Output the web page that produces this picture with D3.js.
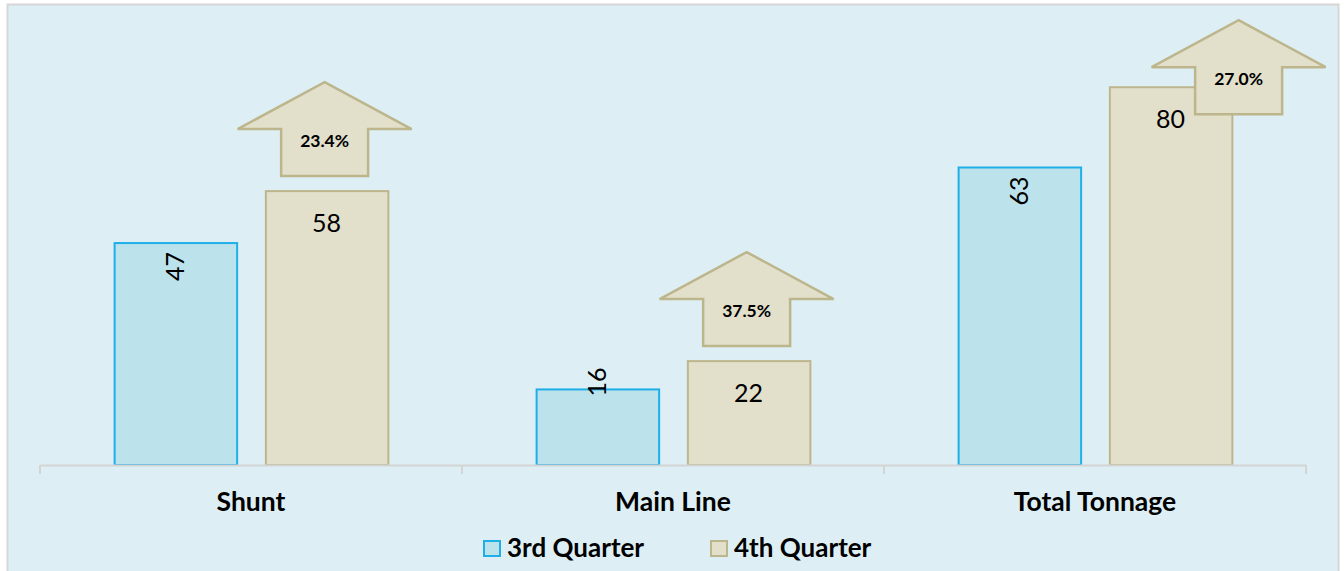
<!DOCTYPE html>
<html>
<head>
<meta charset="utf-8">
<script src="https://cdn.jsdelivr.net/npm/d3@7"></script>
<style>
  body { margin: 0; background: #fff; }
  text { font-family: Lato, "Open Sans", sans-serif; }
</style>
</head>
<body>
<div id="chart"></div>
<script>
const categories = ['Shunt', 'Main Line', 'Total Tonnage'];
const seriesNames = ['3rd Quarter', '4th Quarter'];
const q3 = [47, 16, 63];
const q4 = [58, 22, 80];
const changes = ['23.4%', '37.5%', '27.0%'];

const width = 1344, height = 571;
const colors = {
  '3rd Quarter': {fill: '#bce2ec', stroke: '#1eaee8'},
  '4th Quarter': {fill: '#e2dfcb', stroke: '#bdb68c'}
};

const svg = d3.select('#chart').append('svg')
  .attr('width', width).attr('height', height);

// background panel
svg.append('rect')
  .attr('x', 7.5).attr('y', 4.5)
  .attr('width', 1331).attr('height', 580)
  .attr('fill', '#ddeff5')
  .attr('stroke', '#d6d6d6').attr('stroke-width', 2);

const x0 = d3.scaleBand().domain(categories).range([40, 1306]).padding(0);
const x1 = d3.scaleBand().domain(seriesNames).range([0, x0.bandwidth()])
  .paddingInner(0.19).paddingOuter(0.49);
const y = d3.scaleLinear().domain([0, 90]).range([465, 40]);

const rows = categories.map((c, i) => ({
  cat: c,
  vals: [{s: seriesNames[0], v: q3[i]}, {s: seriesNames[1], v: q4[i]}],
  change: changes[i]
}));

// bars
const g = svg.append('g');
g.selectAll('g.cat')
  .data(rows)
  .join('g')
    .attr('class', 'cat')
    .attr('transform', d => `translate(${x0(d.cat)},0)`)
  .selectAll('rect')
  .data(d => d.vals)
  .join('rect')
    .attr('x', d => x1(d.s) + 0.5)
    .attr('y', d => y(d.v))
    .attr('width', x1.bandwidth())
    .attr('height', d => y(0) - y(d.v))
    .attr('fill', d => colors[d.s].fill)
    .attr('stroke', d => colors[d.s].stroke)
    .attr('stroke-width', 2);

// axis
const axis = svg.append('g')
  .attr('transform', `translate(0,${y(0)})`)
  .call(d3.axisBottom(x0).tickSize(0).tickFormat(''));
axis.select('.domain').attr('stroke', '#d4d4d4').attr('stroke-width', 2);
axis.selectAll('.tick').remove();
const tickPos = categories.map(c => x0(c)).concat([x0.range()[1]]);
axis.selectAll('line.sep')
  .data(tickPos)
  .join('line')
    .attr('x1', d => d).attr('x2', d => d)
    .attr('y1', 0).attr('y2', 9)
    .attr('stroke', '#d4d4d4').attr('stroke-width', 2);

svg.append('g').selectAll('text')
  .data(categories)
  .join('text')
    .attr('x', d => x0(d) + x0.bandwidth() / 2)
    .attr('y', 511)
    .attr('text-anchor', 'middle')
    .attr('font-size', 26.5)
    .attr('font-weight', 700)
    .attr('fill', '#000')
    .text(d => d);

// value labels, 3rd quarter rotated
svg.append('g').selectAll('text')
  .data(rows)
  .join('text')
    .attr('transform', d => {
      const cx = x0(d.cat) + x1(seriesNames[0]) + x1.bandwidth() / 2 + 9;
      const top = y(d.vals[0].v) + (d.vals[0].v < 20 ? -22 : 9);
      return `translate(${cx},${top}) rotate(-90)`;
    })
    .attr('text-anchor', 'end')
    .attr('font-size', 25)
    .attr('fill', '#000')
    .text(d => d.vals[0].v);

svg.append('g').selectAll('text')
  .data(rows)
  .join('text')
    .attr('x', d => x0(d.cat) + x1(seriesNames[1]) + x1.bandwidth() / 2)
    .attr('y', d => y(d.vals[1].v) + 41)
    .attr('text-anchor', 'middle')
    .attr('font-size', 25)
    .attr('fill', '#000')
    .text(d => d.vals[1].v);

// change arrows
const arrowW = 174, headH = 47, shaftW = 87, arrowH = 94;
function arrowPath(cx, bottom) {
  const top = bottom - arrowH, wing = top + headH;
  return `M${cx},${top} L${cx + arrowW / 2},${wing} L${cx + shaftW / 2},${wing}
    L${cx + shaftW / 2},${bottom} L${cx - shaftW / 2},${bottom} L${cx - shaftW / 2},${wing}
    L${cx - arrowW / 2},${wing} Z`;
}
const arrowPos = rows.map((d, i) => {
  const bx = x0(d.cat) + x1(seriesNames[1]) + x1.bandwidth() / 2;
  const by = y(d.vals[1].v);
  // last one sits shifted right, overlapping the bar top
  return i === rows.length - 1 ? {cx: bx + 68, bottom: by + 27} : {cx: bx - 2, bottom: by - 15};
});
const arrows = svg.append('g').selectAll('g')
  .data(rows)
  .join('g');
arrows.append('path')
  .attr('d', (d, i) => arrowPath(arrowPos[i].cx, arrowPos[i].bottom))
  .attr('fill', '#e2dfcb')
  .attr('stroke', '#bdb68c')
  .attr('stroke-width', 2.5);
arrows.append('text')
  .attr('x', (d, i) => arrowPos[i].cx)
  .attr('y', (d, i) => arrowPos[i].bottom - arrowH + headH + 18)
  .attr('text-anchor', 'middle')
  .attr('font-size', 17.5)
  .attr('font-weight', 700)
  .attr('fill', '#000')
  .text(d => d.change);

// legend
const legendX = [483, 710];
const legend = svg.append('g').selectAll('g')
  .data(seriesNames)
  .join('g')
    .attr('transform', (d, i) => `translate(${legendX[i]},540)`);
legend.append('rect')
  .attr('x', 1).attr('y', 1)
  .attr('width', 16).attr('height', 15)
  .attr('fill', d => colors[d].fill)
  .attr('stroke', d => colors[d].stroke)
  .attr('stroke-width', 2);
legend.append('text')
  .attr('x', 24).attr('y', 17)
  .attr('font-size', 26)
  .attr('font-weight', 700)
  .attr('fill', '#000')
  .text(d => d);
</script>
</body>
</html>
